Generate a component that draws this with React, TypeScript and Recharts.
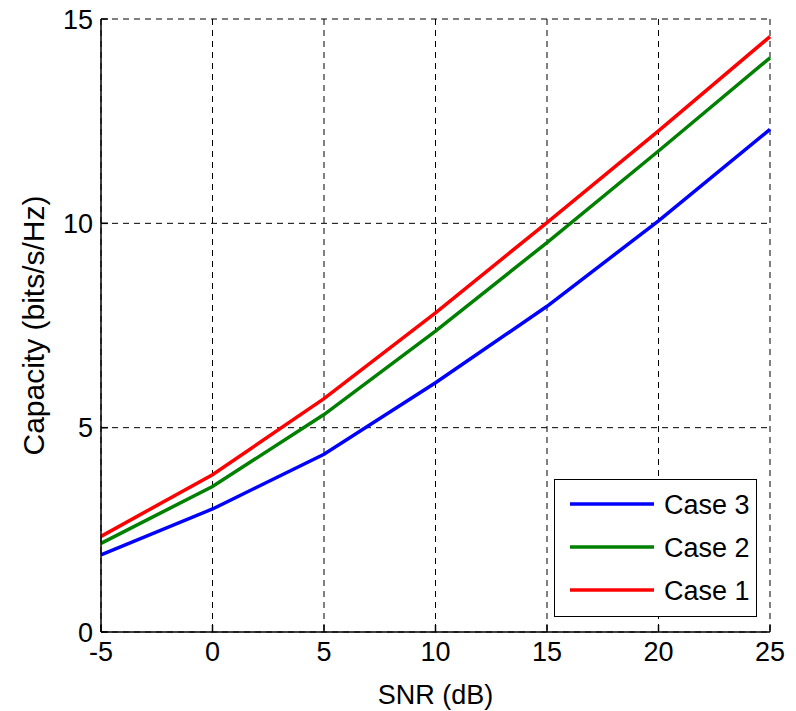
import React from 'react';
import { LineChart, Line, XAxis, YAxis, CartesianGrid, Legend } from 'recharts';

const snrDb = [-5, 0, 5, 10, 15, 20, 25];
const case1 = [2.34, 3.85, 5.71, 7.81, 10.02, 12.26, 14.57];
const case2 = [2.17, 3.56, 5.32, 7.36, 9.53, 11.77, 14.05];
const case3 = [1.89, 3.01, 4.35, 6.1, 7.97, 10.06, 12.3];

const xTicks = [-5, 0, 5, 10, 15, 20, 25];
const yTicks = [0, 5, 10, 15];

const seriesKeys = ['case3', 'case2', 'case1'];
const seriesNames = ['Case 3', 'Case 2', 'Case 1'];
const seriesColors = ['#0000FF', '#008000', '#FF0000'];

const data = snrDb.map((x, i) => ({ snr: x, case1: case1[i], case2: case2[i], case3: case3[i] }));

const FONT = '"Liberation Sans", Arial, Helvetica, sans-serif';
const tickStyle = { fill: '#000', fontSize: 27, fontFamily: FONT };

function LegendBox() {
  return (
    <div
      style={{
        width: 203,
        height: 138,
        boxSizing: 'border-box',
        border: '1.5px solid #000',
        background: '#fff',
      }}
    >
      <svg width={200} height={135} style={{ display: 'block' }}>
        {seriesNames.map((name, i) => {
          const cy = 24 + i * 43;
          return (
            <g key={name}>
              <line x1={15} x2={99} y1={cy} y2={cy} stroke={seriesColors[i]} strokeWidth={3.5} />
              <text x={109} y={cy + 10} fontSize={27} fontFamily={FONT} fill="#000">
                {name}
              </text>
            </g>
          );
        })}
      </svg>
    </div>
  );
}

export default function App() {
  return (
    <div style={{ position: 'absolute', left: 0, top: 0, width: 796, height: 711, background: '#fff' }}>
      <LineChart width={796} height={711} data={data} margin={{ top: 19, right: 26, bottom: 0, left: 0 }}>
        <CartesianGrid
          xAxisId="b"
          yAxisId="l"
          stroke="#000"
          strokeDasharray="6 5"
          strokeWidth={1}
        />
        <XAxis
          xAxisId="b"
          dataKey="snr"
          type="number"
          domain={[-5, 25]}
          ticks={xTicks}
          height={79}
          tickSize={-7}
          tickMargin={17}
          stroke="#000"
          strokeWidth={1.5}
          tick={tickStyle}
          label={{ value: 'SNR (dB)', position: 'insideBottom', offset: 7, fill: '#000', fontSize: 27, fontFamily: FONT }}
        />
        <XAxis
          xAxisId="t"
          orientation="top"
          dataKey="snr"
          type="number"
          domain={[-5, 25]}
          ticks={xTicks}
          height={0}
          tickSize={-7}
          tick={false}
          stroke="#000"
          strokeWidth={1.5}
        />
        <YAxis
          yAxisId="l"
          type="number"
          domain={[0, 15]}
          ticks={yTicks}
          width={101}
          tickSize={-7}
          tickMargin={15}
          stroke="#000"
          strokeWidth={1.5}
          tick={tickStyle}
          label={{
            value: 'Capacity (bits/s/Hz)',
            angle: -90,
            position: 'insideLeft',
            offset: 33,
            fill: '#000',
            fontSize: 30,
            fontFamily: FONT,
            style: { textAnchor: 'middle' },
          }}
        />
        <YAxis
          yAxisId="r"
          orientation="right"
          type="number"
          domain={[0, 15]}
          ticks={yTicks}
          width={0}
          tickSize={-7}
          tick={false}
          stroke="#000"
          strokeWidth={1.5}
        />
        {seriesKeys.map((k, i) => (
          <Line
            key={k}
            xAxisId="b"
            yAxisId="l"
            type="linear"
            dataKey={k}
            name={seriesNames[i]}
            stroke={seriesColors[i]}
            strokeWidth={3.5}
            dot={false}
            activeDot={false}
            isAnimationActive={false}
          />
        ))}
        <Legend
          layout="horizontal"
          verticalAlign="middle"
          align="center"
          wrapperStyle={{ left: 554, top: 479, width: 203, height: 138 }}
          content={() => <LegendBox />}
        />
      </LineChart>
    </div>
  );
}
